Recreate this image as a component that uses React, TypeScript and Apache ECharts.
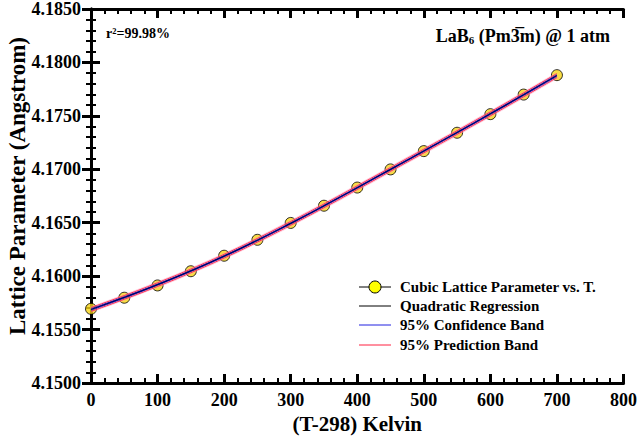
import React, { useEffect, useRef } from "react";
import * as echarts from "echarts";

const temps = [0, 50, 100, 150, 200, 250, 300, 350, 400, 450, 500, 550, 600, 650, 700];
const latticeObs = [4.15694, 4.15798, 4.15913, 4.16046, 4.16191, 4.1634, 4.16498, 4.16659, 4.16829, 4.16999, 4.1717, 4.17342, 4.17516, 4.17699, 4.17881];
const quadFit = [4.15688, 4.15801, 4.15921, 4.16049, 4.16187, 4.16336, 4.16494, 4.16658, 4.16828, 4.16999, 4.17171, 4.17344, 4.17519, 4.17697, 4.17877];
const confUpper = [4.15695, 4.15807, 4.15926, 4.16054, 4.16192, 4.16341, 4.16499, 4.16663, 4.16833, 4.17004, 4.17176, 4.17349, 4.17525, 4.17703, 4.17885];
const confLower = [4.15681, 4.15795, 4.15916, 4.16044, 4.16182, 4.16331, 4.16489, 4.16653, 4.16823, 4.16994, 4.17166, 4.17339, 4.17513, 4.17691, 4.17869];
const predUpper = [4.15706, 4.15818, 4.15938, 4.16066, 4.16204, 4.16353, 4.16511, 4.16675, 4.16845, 4.17016, 4.17188, 4.17361, 4.17537, 4.17715, 4.17896];
const predLower = [4.1567, 4.15784, 4.15904, 4.16032, 4.1617, 4.16319, 4.16477, 4.16641, 4.16811, 4.16982, 4.17154, 4.17327, 4.17501, 4.17679, 4.17858];

const legendLabels = [
  "Cubic Lattice Parameter vs. T.",
  "Quadratic Regression",
  "95% Confidence Band",
  "95% Prediction Band",
];
const yAxisTitle = "Lattice Parameter (Angstrom)";
const xAxisTitle = "(T-298) Kelvin";

const FONT = "'Liberation Serif', 'Times New Roman', serif";

const pair = (ys: number[]) => temps.map((t, i) => [t, ys[i]]);

export default function App() {
  const ref = useRef<HTMLDivElement>(null);
  useEffect(() => {
    document.body.style.margin = "0";
    if (!ref.current) return;
    const chart = echarts.init(ref.current, null, { renderer: "svg" });
    const axisLine = { show: true, lineStyle: { color: "#000", width: 3 } };
    const axisTick = { show: true, inside: true, length: 9, lineStyle: { color: "#000", width: 3 } };
    const minorTick = { show: true, splitNumber: 5, length: 5, lineStyle: { color: "#000", width: 2 } };
    const lineSeries = (name: string, ys: number[], color: string, width: number, z: number) => ({
      name,
      type: "line",
      data: pair(ys),
      showSymbol: false,
      symbol: "none",
      smooth: true,
      lineStyle: { color, width },
      z,
      silent: true,
    });
    const legendY = [287, 306, 325, 345];
    const legendColors = ["#000", "#000", "#2020e0", "#ff2040"];
    const graphics: any[] = [];
    legendLabels.forEach((lab, i) => {
      graphics.push({
        type: "line",
        shape: { x1: 359, y1: legendY[i], x2: 391, y2: legendY[i] },
        style: { stroke: legendColors[i], lineWidth: 1 },
      });
      if (i === 0) {
        graphics.push({
          type: "circle",
          shape: { cx: 375, cy: legendY[i], r: 6 },
          style: { fill: "#ffff00", stroke: "#000", lineWidth: 1 },
        });
      }
      graphics.push({
        type: "text",
        x: 400,
        y: legendY[i],
        style: {
          text: lab,
          fontFamily: FONT,
          fontWeight: "bold",
          fontSize: 15,
          fill: "#000",
          verticalAlign: "middle",
          align: "left",
        },
      });
    });
    graphics.push({
      type: "text",
      x: 106,
      y: 33,
      style: {
        text: "r²=99.98%",
        fontFamily: FONT,
        fontWeight: "bold",
        fontSize: 14,
        fill: "#000",
        verticalAlign: "middle",
      },
    });
    graphics.push({
      type: "text",
      x: 610,
      y: 36,
      style: {
        text: "{m|LaB}{s|6}{m| (Pm3\u0305m) @ 1 atm}",
        fontFamily: FONT,
        fontWeight: "bold",
        fontSize: 18,
        fill: "#000",
        align: "right",
        verticalAlign: "middle",
        rich: {
          m: { fontFamily: FONT, fontWeight: "bold", fontSize: 18, fill: "#000" },
          s: { fontFamily: FONT, fontWeight: "bold", fontSize: 11, fill: "#000", padding: [8, 0, 0, 0] },
        },
      },
    });
    graphics.push({
      type: "text",
      x: 17,
      y: 186,
      rotation: Math.PI / 2,
      style: {
        text: yAxisTitle,
        fontFamily: FONT,
        fontWeight: "bold",
        fontSize: 23,
        fill: "#000",
        align: "center",
        verticalAlign: "middle",
      },
    });

    chart.setOption({
      animation: false,
      backgroundColor: "#fff",
      grid: { left: 91, right: 15, top: 6, bottom: 62, containLabel: false },
      xAxis: [
        {
          type: "value",
          min: 0,
          max: 800,
          interval: 100,
          position: "bottom",
          name: xAxisTitle,
          nameLocation: "middle",
          nameGap: 28,
          nameTextStyle: { fontFamily: FONT, fontWeight: "bold", fontSize: 21, color: "#000" },
          axisLine,
          axisTick,
          minorTick,
          splitLine: { show: false },
          axisLabel: { fontFamily: FONT, fontWeight: "bold", fontSize: 18, color: "#000", margin: 8 },
        },
        {
          type: "value",
          min: 0,
          max: 800,
          interval: 100,
          position: "top",
          axisLine,
          axisTick,
          minorTick,
          splitLine: { show: false },
          axisLabel: { show: false },
        },
      ],
      yAxis: [
        {
          type: "value",
          min: 4.15,
          max: 4.185,
          interval: 0.005,
          position: "left",
          axisLine,
          axisTick,
          minorTick,
          splitLine: { show: false },
          axisLabel: {
            fontFamily: FONT,
            fontWeight: "bold",
            fontSize: 18,
            color: "#000",
            margin: 10,
            formatter: (v: number) => v.toFixed(4),
          },
        },
        {
          type: "value",
          min: 4.15,
          max: 4.185,
          interval: 0.005,
          position: "right",
          axisLine,
          axisTick,
          minorTick,
          splitLine: { show: false },
          axisLabel: { show: false },
        },
      ],
      series: [
        {
          name: "Cubic Lattice Parameter vs. T.",
          type: "scatter",
          data: pair(latticeObs),
          symbol: "circle",
          symbolSize: 11,
          itemStyle: { color: "#f7d417", borderColor: "#000", borderWidth: 1 },
          z: 2,
          silent: true,
        },
        lineSeries("halo", quadFit, "rgba(255,140,180,0.45)", 6, 3),
        lineSeries("95% Prediction Band U", predUpper, "#ff3050", 1, 4),
        lineSeries("95% Prediction Band L", predLower, "#ff3050", 1, 4),
        lineSeries("95% Confidence Band U", confUpper, "#2a2ad8", 1, 5),
        lineSeries("95% Confidence Band L", confLower, "#2a2ad8", 1, 5),
        lineSeries("Quadratic Regression", quadFit, "#000060", 1.2, 6),
      ],
      graphic: graphics,
    });
    return () => chart.dispose();
  }, []);
  return <div ref={ref} style={{ width: 640, height: 445 }} />;
}
